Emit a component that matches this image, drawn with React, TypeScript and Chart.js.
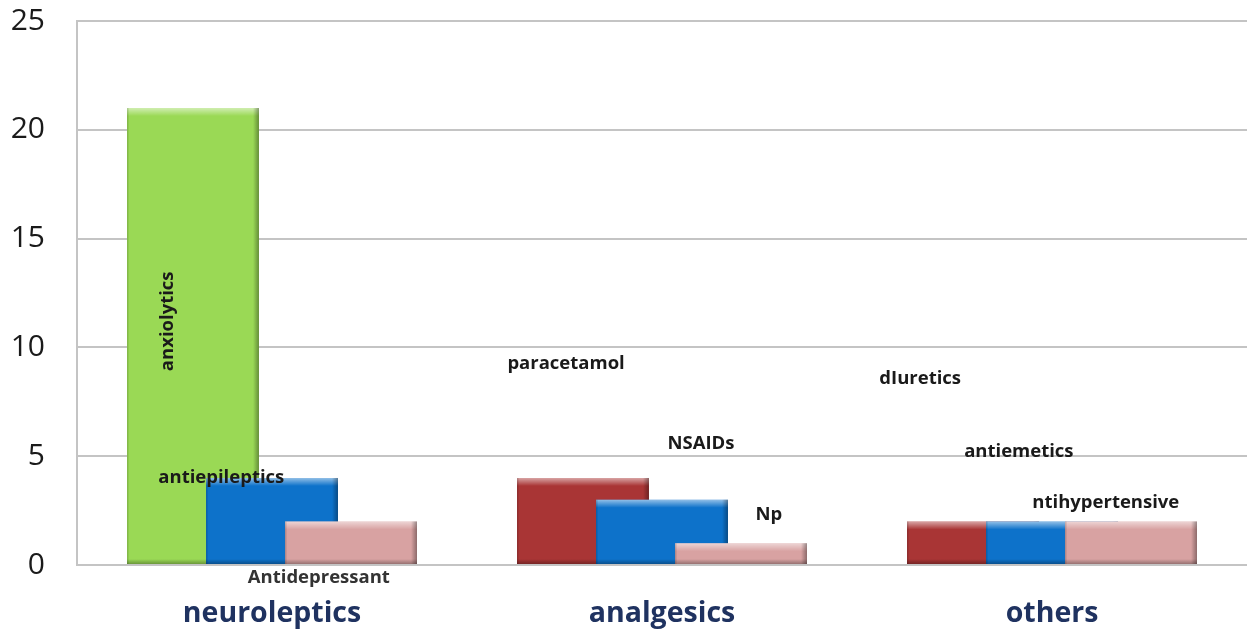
import React, { useEffect, useRef } from "react";
import { Chart, registerables } from "chart.js";

Chart.register(...registerables);

// ---- data ----
const categories = ["neuroleptics", "analgesics", "others"];
// first bar of each group: anxiolytics / paracetamol / diuretics
const firstSeries = [21, 4, 2];
// second bar: antiepileptics / NSAIDs / antiemetics
const secondSeries = [4, 3, 2];
// third bar: Antidepressant / Np / antihypertensive
const thirdSeries = [2, 1, 2];
const yTickMax = 25;
const yTickStep = 5;

const firstColors = ["#9AD955", "#A93535", "#A93535"];
const secondColor = "#0D72CA";
const thirdColor = "#D8A2A2";

// text annotations (category index, value, offset inside category as fraction)
const noteTexts = [
  "anxiolytics",
  "antiepileptics",
  "Antidepressant",
  "paracetamol",
  "NSAIDs",
  "Np",
  "dIuretics",
  "antiemetics",
  "ntihypertensive",
];
const noteCats = [0, 0, 0, 1, 1, 1, 2, 2, 2];
const noteValues = [11.2, 4.0, -0.6, 9.25, 5.55, 2.3, 8.55, 5.2, 2.85];
const noteOffsets = [-0.267, -0.13, 0.12, -0.246, 0.1, 0.274, -0.338, -0.085, 0.138];
const noteRotated = [true, false, false, false, false, false, false, false, false];

// layout: horizontal shift of each series inside a category (fraction of category)
const seriesShift = [-0.2026, 0, 0.2026];

const bevelPlugin = {
  id: "bevel",
  afterDatasetDraw(chart: any, args: any) {
    const meta = args.meta;
    if (meta.type !== "bar") return;
    const ctx = chart.ctx;
    meta.data.forEach((bar: any) => {
      const p = bar.getProps(["x", "y", "base", "width"], true);
      const left = p.x - p.width / 2;
      const top = p.y;
      const h = p.base - p.y;
      const w = p.width;
      ctx.save();
      const g1 = ctx.createLinearGradient(0, top, 0, top + 8);
      g1.addColorStop(0, "rgba(255,255,255,0.55)");
      g1.addColorStop(1, "rgba(255,255,255,0)");
      ctx.fillStyle = g1;
      ctx.fillRect(left, top, w, Math.min(8, h));
      const g2 = ctx.createLinearGradient(left + w - 6, 0, left + w, 0);
      g2.addColorStop(0, "rgba(0,0,0,0)");
      g2.addColorStop(1, "rgba(0,0,0,0.35)");
      ctx.fillStyle = g2;
      ctx.fillRect(left + w - 6, top, 6, h);
      const g3 = ctx.createLinearGradient(0, p.base - 5, 0, p.base);
      g3.addColorStop(0, "rgba(0,0,0,0)");
      g3.addColorStop(1, "rgba(0,0,0,0.3)");
      ctx.fillStyle = g3;
      ctx.fillRect(left, p.base - 5, w, 5);
      ctx.fillStyle = "rgba(0,0,0,0.15)";
      ctx.fillRect(left, top, 1.5, h);
      ctx.restore();
    });
  },
};

const notesPlugin = {
  id: "notes",
  afterDraw(chart: any) {
    const ctx = chart.ctx;
    const xs = chart.scales.x;
    const ys = chart.scales.y;
    const catW = (xs.right - xs.left) / categories.length;
    ctx.save();
    ctx.font = "bold 18.5px 'Open Sans'";
    ctx.textAlign = "center";
    ctx.textBaseline = "middle";
    noteTexts.forEach((t, i) => {
      const x = xs.getPixelForValue(noteCats[i]) + noteOffsets[i] * catW;
      const y = ys.getPixelForValue(noteValues[i]);
      ctx.fillStyle = i === 2 ? "#333333" : "#1a1a1a";
      if (noteRotated[i]) {
        ctx.save();
        ctx.translate(x, y);
        ctx.rotate(-Math.PI / 2);
        ctx.fillText(t, 0, 0);
        ctx.restore();
      } else {
        ctx.fillText(t, x, y);
      }
    });
    ctx.restore();
  },
};

export default function App() {
  const ref = useRef<HTMLCanvasElement>(null);
  useEffect(() => {
    document.body.style.margin = "0";
    const series = [firstSeries, secondSeries, thirdSeries];
    const colors: any[] = [firstColors, secondColor, thirdColor];
    const chart = new Chart(ref.current!, {
      type: "bar",
      data: {
        datasets: series.map((s, d) => ({
          data: s.map((v, i) => ({ x: i + seriesShift[d], y: v })),
          backgroundColor: colors[d],
          borderWidth: 0,
          grouped: false,
          order: series.length - d,
          categoryPercentage: 1,
          barPercentage: 1.67,
        })),
      },
      options: {
        animation: false,
        responsive: true,
        maintainAspectRatio: false,
        layout: { padding: { top: 21, right: 3, left: 0, bottom: 0 } },
        plugins: {
          legend: { display: false },
          tooltip: { enabled: false },
        },
        scales: {
          x: {
            type: "linear",
            min: -0.5,
            max: categories.length - 0.5,
            offset: false,
            grid: { display: false },
            border: { display: false },
            afterBuildTicks(scale: any) {
              scale.ticks = categories.map((_, i) => ({ value: i }));
            },
            ticks: {
              color: "#1F3260",
              font: { family: "'Open Sans'", size: 28.5, weight: "bold" },
              padding: 24,
              autoSkip: false,
              maxRotation: 0,
              callback: (v: any) => categories[v],
            },
            afterFit(scale: any) {
              scale.height = 69;
            },
          },
          y: {
            min: 0,
            max: yTickMax,
            ticks: {
              stepSize: yTickStep,
              color: "#1a1a1a",
              font: { family: "'Open Sans'", size: 30 },
              padding: 0,
            },
            grid: {
              color: "#C4C4C4",
              lineWidth: 2,
              drawTicks: true,
              tickLength: 32,
              tickColor: "rgba(0,0,0,0)",
            },
            border: { display: true, color: "#C4C4C4", width: 2 },
            afterFit(scale: any) {
              scale.width = 77;
            },
          },
        },
      },
      plugins: [bevelPlugin, notesPlugin],
    } as any);
    return () => chart.destroy();
  }, []);
  return (
    <div style={{ width: 1250, height: 634, position: "relative", background: "#fff" }}>
      <canvas ref={ref} />
    </div>
  );
}
